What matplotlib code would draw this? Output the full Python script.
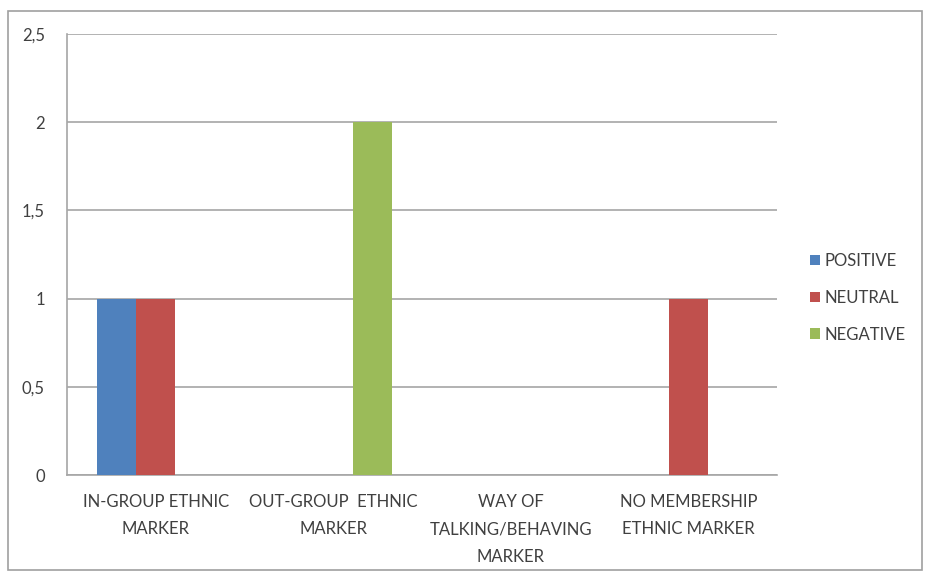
from matplotlib import pyplot as plt
from matplotlib.patches import Rectangle
import numpy as np

categories = ["IN-GROUP ETHNIC\nMARKER", "OUT-GROUP  ETHNIC\nMARKER",
              "WAY OF\nTALKING/BEHAVING\nMARKER", "NO MEMBERSHIP\nETHNIC MARKER"]
series = ["POSITIVE", "NEUTRAL", "NEGATIVE"]
positive = [1, 0, 0, 0]
neutral = [1, 0, 0, 1]
negative = [0, 2, 0, 0]
yticks = [0, 0.5, 1, 1.5, 2, 2.5]
ytick_labels = ["0", "0,5", "1", "1,5", "2", "2,5"]

colors = ["#4F81BD", "#C0504D", "#9BBB59"]
text_color = "#404040"
grid_color = "#A6A6A6"

plt.rcParams['font.family'] = ['Lato', 'DejaVu Sans']

fig = plt.figure(figsize=(9.26, 5.74), dpi=100)
ax = fig.add_axes([67 / 926, 1 - 475 / 574, 710 / 926, 441 / 574])

x = np.arange(len(categories))
w = 0.22
for i, (vals, name) in enumerate(zip([positive, neutral, negative], series)):
    ax.bar(x + (i - 1) * w, vals, w, color=colors[i], label=name, zorder=3)

ax.set_xlim(-0.5, 3.5)
ax.set_ylim(0, 2.5)
ax.set_yticks(yticks)
ax.set_yticklabels(ytick_labels)
ax.set_xticks(x)
ax.set_xticklabels(categories, linespacing=1.85)
ax.tick_params(axis='both', length=0, colors=text_color, labelsize=12)
ax.tick_params(axis='y', pad=16)
ax.tick_params(axis='x', pad=14)
ax.yaxis.grid(True, color=grid_color, linewidth=1.2, zorder=0)
for s in ["top", "right"]:
    ax.spines[s].set_visible(False)
for s in ["left", "bottom"]:
    ax.spines[s].set_color(grid_color)
    ax.spines[s].set_linewidth(1.2)

fig.legend(loc="upper left", bbox_to_anchor=(795 / 926, 1 - 238 / 574),
           frameon=False, handlelength=0.6, handleheight=0.6, handletextpad=0.3,
           labelspacing=1.25, fontsize=12, labelcolor=text_color)

fig.patches.append(Rectangle((8 / 926, 1 - 570 / 574), 914 / 926, 559 / 574,
                             transform=fig.transFigure, fill=False,
                             edgecolor="#A0A0A0", linewidth=1.2))

fig.savefig("out.png", dpi=100)
